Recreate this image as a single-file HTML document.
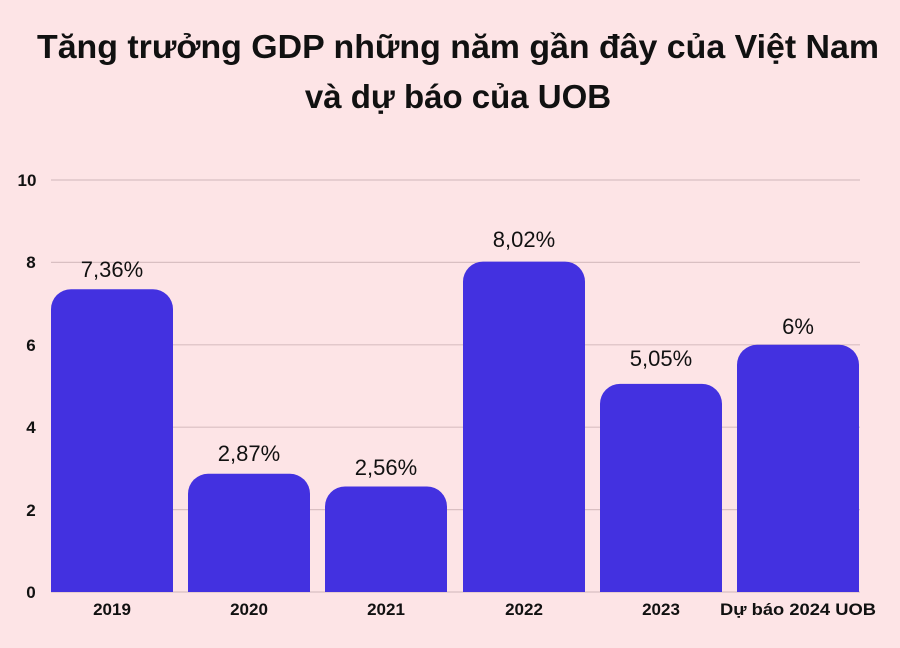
<!DOCTYPE html>
<html><head><meta charset="utf-8"><style>
html,body{margin:0;padding:0;background:#fde4e6;}
body{width:900px;height:643px;overflow:hidden;font-family:"Liberation Sans",sans-serif;}
</style></head><body>
<svg width="900" height="643" xmlns="http://www.w3.org/2000/svg" font-family="Liberation Sans, sans-serif">
<rect width="900" height="643" fill="#fde4e6"/>
<text x="458" y="58" text-anchor="middle" font-size="33" font-weight="bold" fill="#111" textLength="842" lengthAdjust="spacingAndGlyphs">Tăng trưởng GDP những năm gần đây của Việt Nam</text>
<text x="458" y="108" text-anchor="middle" font-size="33" font-weight="bold" fill="#111">và dự báo của UOB</text>
<g stroke="#d9bfc2" stroke-width="1.2">
<line x1="51" x2="860" y1="180" y2="180"/>
<line x1="51" x2="860" y1="262.4" y2="262.4"/>
<line x1="51" x2="860" y1="344.8" y2="344.8"/>
<line x1="51" x2="860" y1="427.2" y2="427.2"/>
<line x1="51" x2="860" y1="509.6" y2="509.6"/>
<line x1="51" x2="860" y1="592" y2="592"/>
</g>
<g font-size="17" font-weight="bold" fill="#111" text-anchor="middle">
<text x="27" y="186">10</text><text x="31" y="268">8</text><text x="31" y="351">6</text>
<text x="31" y="433">4</text><text x="31" y="516">2</text><text x="31" y="598">0</text>
</g>
<g fill="#4331e0">
<path d="M51 592V309.2a20 20 0 0 1 20-20H153a20 20 0 0 1 20 20V592Z"/>
<path d="M188 592V493.8a20 20 0 0 1 20-20H290a20 20 0 0 1 20 20V592Z"/>
<path d="M325 592V506.5a20 20 0 0 1 20-20H427a20 20 0 0 1 20 20V592Z"/>
<path d="M463 592V281.6a20 20 0 0 1 20-20H565a20 20 0 0 1 20 20V592Z"/>
<path d="M600 592V403.9a20 20 0 0 1 20-20H702a20 20 0 0 1 20 20V592Z"/>
<path d="M737 592V364.8a20 20 0 0 1 20-20H839a20 20 0 0 1 20 20V592Z"/>
</g>
<g font-size="22" fill="#111" text-anchor="middle">
<text x="112" y="277">7,36%</text>
<text x="249" y="461">2,87%</text>
<text x="386" y="475">2,56%</text>
<text x="524" y="247">8,02%</text>
<text x="661" y="366">5,05%</text>
<text x="798" y="334">6%</text>
</g>
<g font-size="17" font-weight="bold" fill="#111" text-anchor="middle">
<text x="112" y="615">2019</text><text x="249" y="615">2020</text><text x="386" y="615">2021</text>
<text x="524" y="615">2022</text><text x="661" y="615">2023</text><text x="798" y="615" textLength="156" lengthAdjust="spacingAndGlyphs">Dự báo 2024 UOB</text>
</g>
</svg>
</body></html>
